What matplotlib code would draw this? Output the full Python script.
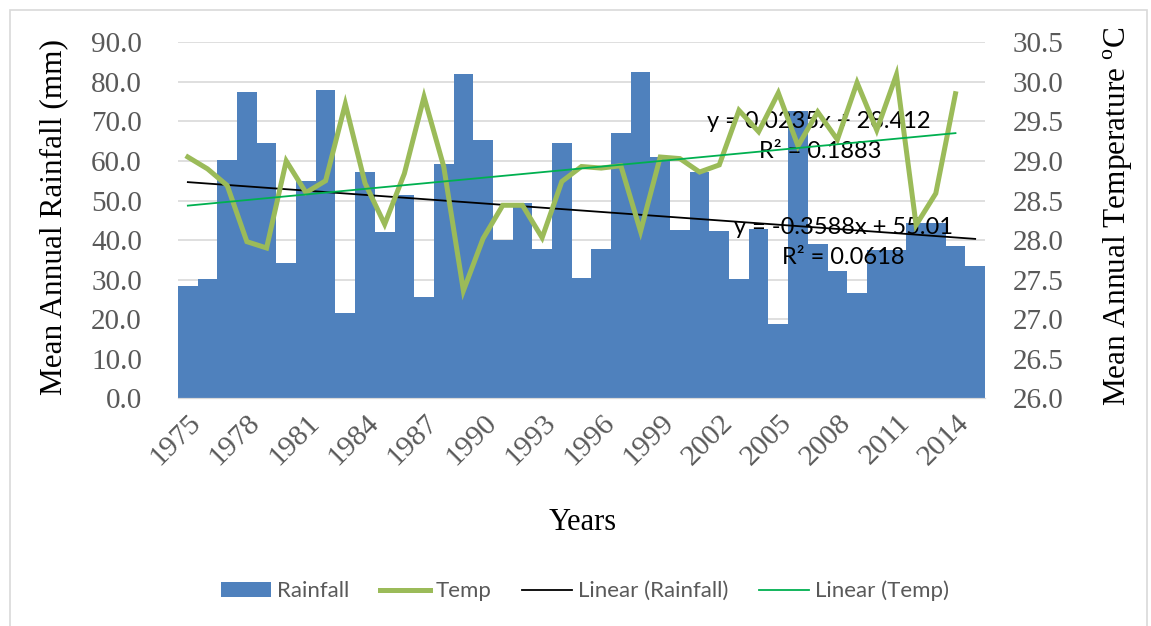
import matplotlib
matplotlib.use("Agg")
import matplotlib.pyplot as plt
from matplotlib.patches import Patch, Rectangle
from matplotlib.lines import Line2D
import numpy as np

plt.rcParams['mathtext.fontset'] = 'custom'
plt.rcParams['mathtext.rm'] = 'Liberation Serif'

years = list(range(1975, 2016))
# mean annual rainfall (mm), 1975-2015
rainfall = [28.4, 30.2, 60.2, 77.5, 64.6, 34.1, 54.9, 78.0, 21.5, 57.2,
            42.1, 51.5, 25.6, 59.2, 82.1, 65.3, 39.9, 49.5, 37.8, 64.5,
            30.5, 37.7, 67.0, 82.4, 61.1, 42.5, 57.3, 42.3, 30.1, 42.7,
            18.7, 72.6, 38.9, 32.3, 26.5, 37.6, 37.6, 44.3, 44.3, 38.5, 33.4]
# mean annual temperature (C), 1975-2014
temp = [29.05, 28.90, 28.69, 27.98, 27.90, 29.00, 28.60, 28.75, 29.72, 28.72,
        28.20, 28.84, 29.81, 28.93, 27.36, 28.02, 28.44, 28.44, 28.03, 28.74,
        28.93, 28.91, 28.94, 28.11, 29.05, 29.03, 28.86, 28.95, 29.64, 29.37,
        29.86, 29.19, 29.62, 29.27, 29.99, 29.39, 30.09, 28.19, 28.59, 29.85]

# linear trend coefficients (x = 1..n)
rain_slope, rain_icept, rain_r2 = -0.3588, 55.01, 0.0618
temp_slope, temp_icept, temp_r2 = 0.0235, 28.412, 0.1883

tick_years = list(range(1975, 2015, 3))

serif = 'Liberation Serif'
sans = 'Lato'
grey = '#595959'

fig = plt.figure(figsize=(11.51, 6.26), dpi=100)
ax = fig.add_axes([178/1151, 1 - 398.3/626, 807/1151, 356/626])
ax2 = ax.twinx()

x_rain = np.arange(1, len(rainfall) + 1)
x_temp = np.arange(1, len(temp) + 1)

ax.bar(x_rain, rainfall, width=1.0, color='#4F81BD', zorder=2)
ax.plot(x_rain, rain_slope * x_rain + rain_icept, color='black', lw=1.3, zorder=4)

ax2.plot(x_temp, temp, color='#9BBB59', lw=3.6, solid_joinstyle='miter', zorder=3)
ax2.plot(x_temp, temp_slope * x_temp + temp_icept, color='#00B050', lw=1.3, zorder=4)

ax.set_xlim(0.5, len(rainfall) + 0.5)
ax.set_ylim(0, 90)
ax2.set_ylim(26, 30.5)
ax.set_yticks(np.arange(0, 91, 10))
ax2.set_yticks(np.arange(26, 30.51, 0.5))
ax.set_yticklabels([f"{v:.1f}" for v in np.arange(0, 91, 10)])
ax2.set_yticklabels([f"{v:.1f}" for v in np.arange(26, 30.51, 0.5)])

ax.set_xticks([y - 1974 for y in tick_years])
ax.set_xticklabels([str(y) for y in tick_years], rotation=45, ha='right',
                   rotation_mode='anchor')

ax.grid(axis='y', color='#D9D9D9', lw=1.2, zorder=0)
ax.set_axisbelow(True)
for a in (ax, ax2):
    for s in ('top', 'left', 'right'):
        a.spines[s].set_visible(False)
    a.spines['bottom'].set_color('#D9D9D9')
    a.tick_params(length=0)

ax.tick_params(axis='y', pad=26, labelsize=21, labelcolor=grey)
ax2.tick_params(axis='y', pad=20, labelsize=21, labelcolor=grey)
ax.tick_params(axis='x', pad=8, labelsize=21.5, labelcolor=grey)
for lab in ax.get_xticklabels() + ax.get_yticklabels() + ax2.get_yticklabels():
    lab.set_fontfamily(serif)

ax.set_ylabel("Mean Annual Rainfall (mm)", fontsize=22.5, family=serif)
ax.yaxis.set_label_coords(-0.136, 0.51)
ax2.set_ylabel(r"Mean Annual Temperature $^{\rm o}$C", fontsize=22.5, family=serif)
ax2.yaxis.set_label_coords(1.145, 0.51)
ax.set_xlabel("Years", fontsize=22, family=serif)
ax.xaxis.set_label_coords((583 - 178) / 807, -(508 - 398.3) / 356)

# trendline equations
ax.text((819 - 178) / 807, (398.3 - 121) / 356,
        f"y = {temp_slope}x + {temp_icept}", transform=ax.transAxes,
        ha='center', va='center', fontsize=17, family=sans, zorder=5)
ax.text((820 - 178) / 807, (398.3 - 152) / 356,
        f"R² = {temp_r2}", transform=ax.transAxes,
        ha='center', va='center', fontsize=17, family=sans, zorder=5)
ax.text((843 - 178) / 807, (398.3 - 228) / 356,
        f"y = {rain_slope}x + {rain_icept}", transform=ax.transAxes,
        ha='center', va='center', fontsize=17, family=sans, zorder=5)
ax.text((843 - 178) / 807, (398.3 - 258) / 356,
        f"R² = {rain_r2}", transform=ax.transAxes,
        ha='center', va='center', fontsize=17, family=sans, zorder=5)

# chart border
fig.patches.append(Rectangle((10/1151, -0.05), 1137/1151, 1.05 - 10/626,
                             transform=fig.transFigure, fill=False,
                             edgecolor='#D9D9D9', lw=1.2))

handles = [Patch(facecolor='#4F81BD'),
           Line2D([], [], color='#9BBB59', lw=3.6),
           Line2D([], [], color='black', lw=1.3),
           Line2D([], [], color='#00B050', lw=1.3)]
labels = ["Rainfall", "Temp", "Linear (Rainfall)", "Linear (Temp)"]
leg = fig.legend(handles, labels, loc='center', bbox_to_anchor=(585/1151, 1 - 591/626),
                 ncol=4, frameon=False, handlelength=2.25, handleheight=0.7,
                 columnspacing=1.4, handletextpad=0.25,
                 prop={'family': sans, 'size': 16})
for t in leg.get_texts():
    t.set_color(grey)

fig.savefig("out.png", dpi=100)
